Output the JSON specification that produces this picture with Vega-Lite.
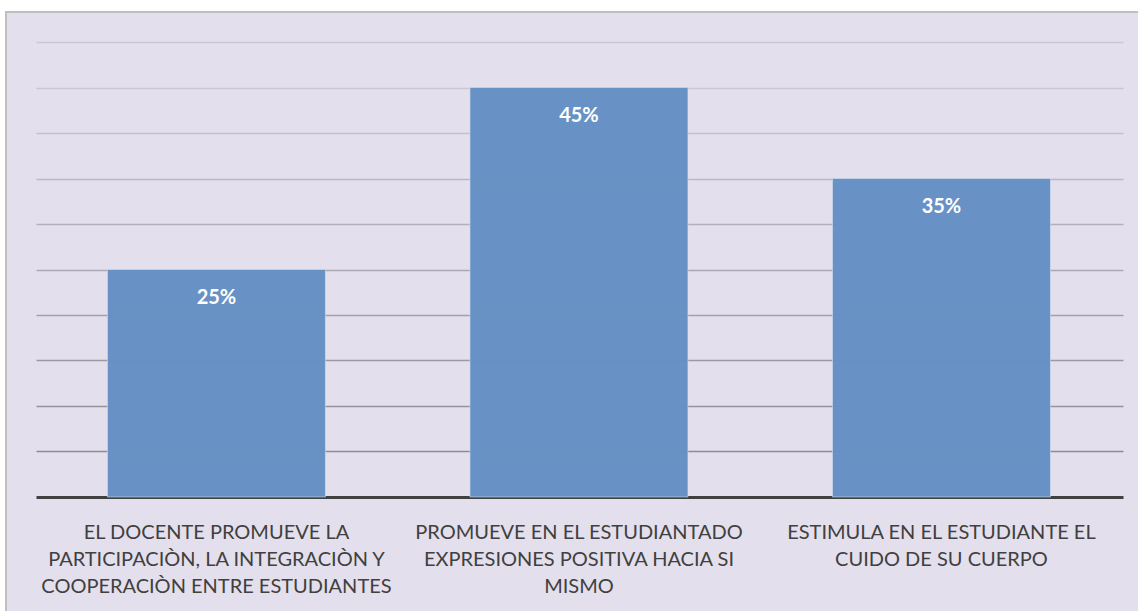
{
  "$schema": "https://vega.github.io/schema/vega-lite/v6.json",
  "width": 1140,
  "height": 605,
  "autosize": {"type": "none"},
  "padding": {"left": 6, "top": 12, "right": 0, "bottom": 0},
  "background": "#FFFFFF",
  "config": {
    "view": {"fill": "#E4DFEC", "stroke": "#BFBFBF", "strokeWidth": 2},
    "font": "Lato"
  },
  "data": {
    "values": [
      {"categoria": "EL DOCENTE PROMUEVE LA|PARTICIPACIÒN, LA INTEGRACIÒN Y|COOPERACIÒN ENTRE ESTUDIANTES", "porcentaje": 0.25},
      {"categoria": "PROMUEVE EN EL ESTUDIANTADO|EXPRESIONES POSITIVA HACIA SI|MISMO", "porcentaje": 0.45},
      {"categoria": "ESTIMULA EN EL ESTUDIANTE EL|CUIDO DE SU CUERPO", "porcentaje": 0.35}
    ]
  },
  "encoding": {
    "x": {
      "field": "categoria",
      "type": "nominal",
      "sort": null,
      "scale": {"paddingInner": 0.3986, "paddingOuter": 0.2717, "align": 0.515},
      "axis": {
        "title": null,
        "orient": "bottom",
        "offset": -120,
        "labelAngle": 0,
        "labelExpr": "split(datum.label, '|')",
        "labelFont": "Lato",
        "labelFontSize": 20,
        "labelColor": "#404040",
        "labelLineHeight": 27,
        "labelPadding": 25,
        "labelBaseline": "top",
        "labelLimit": 0,
        "ticks": false,
        "domainColor": "#404040",
        "domainWidth": 3,
        "domainDash": [0, 30, 1087, 200],
        "grid": false
      }
    },
    "y": {
      "field": "porcentaje",
      "type": "quantitative",
      "scale": {"domain": [-0.1319, 0.533], "nice": false, "zero": false},
      "axis": {
        "title": null,
        "labels": false,
        "ticks": false,
        "domain": false,
        "values": [0.05, 0.1, 0.15, 0.2, 0.25, 0.3, 0.35, 0.4, 0.45, 0.5],
        "grid": true,
        "gridWidth": 1.5,
        "gridDash": [0, 30, 1087, 200],
        "gridColor": {
          "condition": [
            {"test": "datum.value <= 0.051", "value": "#8F8B94"},
            {"test": "datum.value <= 0.101", "value": "#96929B"},
            {"test": "datum.value <= 0.151", "value": "#9D99A2"},
            {"test": "datum.value <= 0.201", "value": "#A4A0AA"},
            {"test": "datum.value <= 0.251", "value": "#ACA8B2"},
            {"test": "datum.value <= 0.301", "value": "#B4B0BA"},
            {"test": "datum.value <= 0.351", "value": "#BCB7C3"},
            {"test": "datum.value <= 0.401", "value": "#C4BFCB"}
          ],
          "value": "#CCC6D3"
        }
      }
    }
  },
  "layer": [
    {
      "mark": {"type": "bar", "color": "#6590C4", "stroke": "#D9E2F0", "strokeWidth": 1, "strokeOpacity": 0.6, "opacity": 0.97},
      "encoding": {"y2": {"datum": 0}}
    },
    {
      "mark": {"type": "text", "color": "#FFFFFF", "fontWeight": "bold", "fontSize": 20, "baseline": "middle", "dy": 28},
      "encoding": {"text": {"field": "porcentaje", "type": "quantitative", "format": ".0%"}}
    }
  ]
}
